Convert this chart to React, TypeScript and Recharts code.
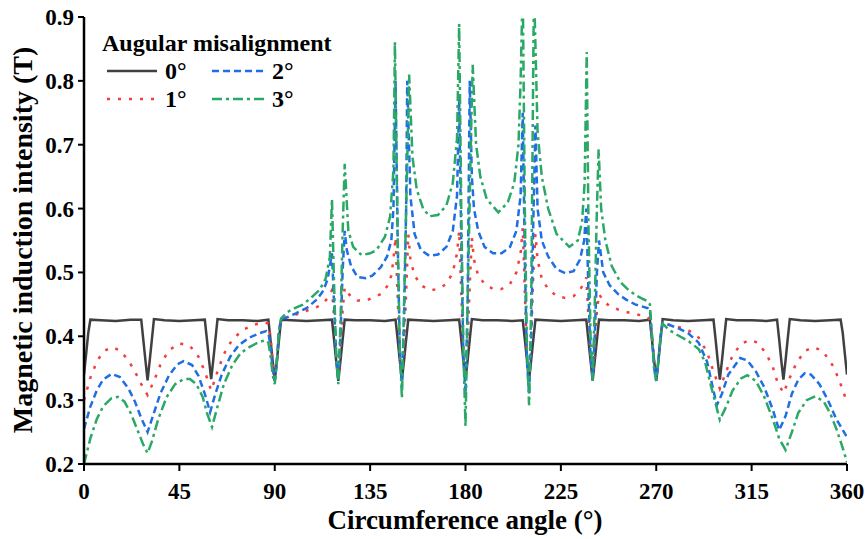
import React from 'react';
import { LineChart, Line, XAxis, YAxis, Legend, Label } from 'recharts';

// ---------- data ----------
const seriesNames = ['0°', '1°', '2°', '3°'];
const xTicks = [0, 45, 90, 135, 180, 225, 270, 315, 360];
const xMinorTicks = [22.5, 67.5, 112.5, 157.5, 202.5, 247.5, 292.5, 337.5];
const yTicks = [0.2, 0.3, 0.4, 0.5, 0.6, 0.7, 0.8, 0.9];
const yMinorTicks = [0.25, 0.35, 0.45, 0.55, 0.65, 0.75, 0.85];

const angles0 = [
  0, 1, 2, 3, 8, 15, 22,
  27, 28, 29, 30, 31, 32, 33, 38, 45, 52,
  57, 58, 59, 60, 61, 62, 63, 68, 75, 82,
  87, 88, 89, 90, 91, 92, 93, 98, 105, 112,
  117, 118, 119, 120, 121, 122, 123, 128, 135, 142,
  147, 148, 149, 150, 151, 152, 153, 158, 165, 172,
  177, 178, 179, 180, 181, 182, 183, 188, 195, 202,
  207, 208, 209, 210, 211, 212, 213, 218, 225, 232,
  237, 238, 239, 240, 241, 242, 243, 248, 255, 262,
  267, 268, 269, 270, 271, 272, 273, 278, 285, 292,
  297, 298, 299, 300, 301, 302, 303, 308, 315, 322,
  327, 328, 329, 330, 331, 332, 333, 338, 345, 352,
  357, 358, 359, 360,
];
const values0 = [
  0.340, 0.372, 0.405, 0.426, 0.425, 0.424, 0.426,
  0.426, 0.394, 0.362, 0.331, 0.362, 0.394, 0.427, 0.425, 0.424, 0.425,
  0.426, 0.395, 0.363, 0.333, 0.363, 0.395, 0.427, 0.425, 0.425, 0.424,
  0.426, 0.394, 0.362, 0.330, 0.362, 0.394, 0.426, 0.425, 0.424, 0.425,
  0.426, 0.394, 0.361, 0.330, 0.361, 0.394, 0.426, 0.425, 0.425, 0.424,
  0.426, 0.395, 0.362, 0.332, 0.362, 0.395, 0.426, 0.425, 0.424, 0.425,
  0.426, 0.395, 0.362, 0.332, 0.362, 0.395, 0.427, 0.425, 0.425, 0.424,
  0.425, 0.395, 0.363, 0.333, 0.363, 0.395, 0.426, 0.425, 0.424, 0.425,
  0.426, 0.394, 0.362, 0.331, 0.362, 0.394, 0.426, 0.425, 0.425, 0.424,
  0.426, 0.394, 0.362, 0.331, 0.362, 0.394, 0.427, 0.425, 0.424, 0.425,
  0.426, 0.395, 0.362, 0.332, 0.362, 0.395, 0.427, 0.425, 0.425, 0.424,
  0.426, 0.395, 0.362, 0.332, 0.362, 0.395, 0.427, 0.425, 0.424, 0.425,
  0.426, 0.405, 0.372, 0.340,
];

const angles1 = [
  0, 3, 6, 9, 13, 17, 21, 24, 27, 30,
  33, 36, 40, 45, 50, 54, 57, 60,
  63, 66, 70, 75, 80, 85, 87, 88, 89, 90, 91, 92, 93,
  96, 100, 105, 110, 113, 115, 116, 117, 118, 119, 120, 121, 122, 123,
  124, 126, 129, 133, 136, 140, 143, 145, 146, 147, 148, 149, 150, 151, 152, 153,
  154, 156, 159, 163, 167, 171, 174, 176, 177, 178, 179, 180, 181, 182, 183,
  184, 186, 189, 193, 197, 201, 204, 206, 207, 208, 209, 210, 211, 212, 213,
  214, 216, 219, 223, 227, 231, 234, 236, 237, 238, 239, 240, 241, 242, 243,
  245, 248, 252, 256, 260, 264, 266, 267, 268, 269, 270, 271, 272, 273,
  276, 280, 285, 290, 294, 297, 300,
  303, 306, 310, 314, 318, 322, 325, 327, 330,
  333, 336, 340, 344, 348, 351, 354, 357, 360,
];
const values1 = [
  0.300, 0.335, 0.360, 0.376, 0.383, 0.378, 0.362, 0.345, 0.325, 0.308,
  0.330, 0.355, 0.378, 0.389, 0.385, 0.368, 0.345, 0.315,
  0.345, 0.372, 0.395, 0.410, 0.418, 0.422, 0.420, 0.400, 0.360, 0.335, 0.360, 0.405, 0.428,
  0.430, 0.434, 0.440, 0.446, 0.452, 0.460, 0.465, 0.472, 0.430, 0.370, 0.335, 0.380, 0.440, 0.476,
  0.470, 0.462, 0.456, 0.456, 0.460, 0.466, 0.478, 0.495, 0.520, 0.555, 0.460, 0.370, 0.332, 0.380, 0.470, 0.560,
  0.520, 0.495, 0.480, 0.472, 0.474, 0.482, 0.500, 0.530, 0.565, 0.470, 0.370, 0.332, 0.390, 0.480, 0.555,
  0.520, 0.495, 0.482, 0.474, 0.474, 0.482, 0.500, 0.530, 0.570, 0.470, 0.370, 0.333, 0.400, 0.500, 0.560,
  0.520, 0.490, 0.474, 0.463, 0.460, 0.463, 0.472, 0.485, 0.492, 0.430, 0.370, 0.335, 0.380, 0.440, 0.466,
  0.456, 0.447, 0.442, 0.438, 0.435, 0.432, 0.430, 0.425, 0.400, 0.360, 0.335, 0.360, 0.400, 0.420,
  0.418, 0.415, 0.410, 0.398, 0.375, 0.345, 0.318,
  0.345, 0.370, 0.388, 0.394, 0.390, 0.372, 0.352, 0.330, 0.311,
  0.335, 0.357, 0.377, 0.383, 0.378, 0.366, 0.350, 0.325, 0.297,
];

const angles2 = [
  0, 3, 6, 9, 13, 17, 21, 24, 27, 30,
  33, 36, 40, 44, 47, 51, 54, 57, 59.5,
  62, 65, 69, 73, 78, 83, 86, 87, 88, 89, 90, 91, 92, 93,
  96, 100, 105, 110, 113, 115, 116, 117, 118, 119, 120, 121, 122, 123,
  124, 126, 129, 133, 136, 140, 143, 145, 146, 147, 148, 149, 150, 151, 152, 152.5,
  154, 156, 159, 163, 167, 171, 174, 176, 177, 178, 179, 180, 181, 182, 183,
  184, 186, 189, 193, 197, 201, 204, 206, 207, 208, 209, 210, 211, 212, 213,
  214, 216, 219, 223, 227, 231, 234, 236, 237, 238, 239, 240, 241, 242, 243,
  245, 248, 252, 256, 260, 264, 266, 267, 268, 269, 270, 271, 272, 273,
  276, 280, 285, 290, 294, 297, 298.6,
  301, 304, 309.6, 313, 317, 321, 325, 328,
  331, 334, 337, 340, 343, 347, 351, 355, 360,
];
const values2 = [
  0.255, 0.290, 0.315, 0.332, 0.341, 0.336, 0.318, 0.298, 0.272, 0.250,
  0.280, 0.310, 0.338, 0.356, 0.361, 0.355, 0.338, 0.310, 0.281,
  0.310, 0.340, 0.368, 0.386, 0.398, 0.405, 0.408, 0.405, 0.385, 0.350, 0.330, 0.360, 0.410, 0.427,
  0.430, 0.436, 0.444, 0.458, 0.472, 0.490, 0.510, 0.530, 0.450, 0.370, 0.330, 0.400, 0.500, 0.565,
  0.535, 0.510, 0.493, 0.491, 0.495, 0.508, 0.525, 0.550, 0.600, 0.800, 0.550, 0.380, 0.320, 0.420, 0.600, 0.800,
  0.620, 0.560, 0.535, 0.526, 0.528, 0.540, 0.565, 0.620, 0.770, 0.550, 0.370, 0.310, 0.450, 0.800, 0.650,
  0.600, 0.565, 0.540, 0.530, 0.530, 0.540, 0.565, 0.620, 0.750, 0.520, 0.360, 0.310, 0.400, 0.580, 0.730,
  0.600, 0.550, 0.525, 0.505, 0.499, 0.502, 0.520, 0.550, 0.600, 0.470, 0.370, 0.335, 0.400, 0.500, 0.550,
  0.500, 0.480, 0.466, 0.457, 0.450, 0.446, 0.444, 0.440, 0.400, 0.350, 0.330, 0.360, 0.400, 0.420,
  0.418, 0.413, 0.405, 0.390, 0.360, 0.315, 0.292,
  0.310, 0.340, 0.366, 0.362, 0.345, 0.320, 0.285, 0.253,
  0.275, 0.310, 0.332, 0.342, 0.340, 0.325, 0.300, 0.270, 0.242,
];

const angles3 = [
  0, 3, 6, 9, 13, 16, 19, 22, 25, 28, 30,
  32, 35, 39, 43, 47, 50, 53, 56, 58, 60.4,
  63, 66, 70, 74, 78, 82, 85.5, 87, 88, 89, 90, 91, 92, 93,
  96, 100, 103, 107, 111, 114, 116, 117, 118, 119, 120, 121, 122, 123,
  124.7, 127, 131, 135, 138, 142, 144.4, 146, 146.7, 148, 149, 150, 151, 152, 153.4,
  155, 157, 160, 163, 167, 171, 174, 176, 177, 178, 179, 180, 181, 182.5, 183.4,
  185, 187, 190, 195.5, 200, 203, 205, 206, 207, 208, 209, 210, 211, 212.3,
  214, 216, 219, 223, 229, 233, 235, 236.2, 237.2, 238, 239, 240, 241, 242, 242.8,
  244, 246, 249, 253, 257, 261, 264, 266, 267, 268, 269, 270, 271, 272, 273,
  276, 280, 285, 290, 293, 296, 300,
  303, 306, 310, 313, 317, 321, 325, 328, 331,
  334, 337, 341, 345, 349, 352, 355, 358, 360,
];
const values3 = [
  0.200, 0.240, 0.270, 0.290, 0.303, 0.305, 0.298, 0.280, 0.255, 0.230, 0.217,
  0.235, 0.270, 0.305, 0.325, 0.333, 0.333, 0.325, 0.305, 0.280, 0.258,
  0.290, 0.325, 0.355, 0.374, 0.383, 0.390, 0.394, 0.390, 0.370, 0.340, 0.325, 0.360, 0.410, 0.428,
  0.438, 0.445, 0.449, 0.460, 0.472, 0.490, 0.524, 0.615, 0.480, 0.370, 0.325, 0.420, 0.560, 0.670,
  0.566, 0.540, 0.527, 0.530, 0.535, 0.556, 0.587, 0.660, 0.861, 0.550, 0.380, 0.303, 0.450, 0.600, 0.810,
  0.680, 0.630, 0.600, 0.588, 0.590, 0.605, 0.640, 0.710, 0.889, 0.600, 0.380, 0.259, 0.450, 0.700, 0.825,
  0.700, 0.650, 0.615, 0.594, 0.610, 0.640, 0.700, 0.800, 0.950, 0.600, 0.380, 0.292, 0.450, 0.950,
  0.720, 0.650, 0.600, 0.560, 0.540, 0.550, 0.580, 0.640, 0.845, 0.580, 0.400, 0.330, 0.450, 0.600, 0.693,
  0.600, 0.550, 0.510, 0.485, 0.472, 0.463, 0.458, 0.455, 0.450, 0.400, 0.350, 0.330, 0.360, 0.400, 0.420,
  0.410, 0.402, 0.393, 0.380, 0.360, 0.320, 0.269,
  0.290, 0.315, 0.334, 0.339, 0.330, 0.305, 0.270, 0.240, 0.222,
  0.250, 0.280, 0.300, 0.306, 0.298, 0.280, 0.255, 0.225, 0.203,
];

// ---------- build ----------
const toPoints = (a: number[], v: number[]) => a.map((x, i) => ({ angle: x, value: v[i] }));

const FONT = 'Liberation Serif, Times New Roman, serif';

const series = [
  { name: seriesNames[0], data: toPoints(angles0, values0), color: '#404040', dash: undefined as string | undefined },
  { name: seriesNames[1], data: toPoints(angles1, values1), color: '#f53d3d', dash: '3 8' },
  { name: seriesNames[2], data: toPoints(angles2, values2), color: '#1f6ee3', dash: '7 4' },
  { name: seriesNames[3], data: toPoints(angles3, values3), color: '#2aa866', dash: '10 4 3 4' },
];

const textStyle: React.CSSProperties = { fontFamily: FONT, fontWeight: 700 };

function XTick(props: any) {
  const { x, y, payload } = props;
  return (
    <text x={x} y={y + 17} textAnchor="middle" fontSize={23} fill="#000" style={textStyle}>
      {payload.value}
    </text>
  );
}

function YTick(props: any) {
  const { x, y, payload } = props;
  return (
    <text x={x} y={y + 8} textAnchor="end" fontSize={23} fill="#000" style={textStyle}>
      {Number(payload.value).toFixed(1)}
    </text>
  );
}

function LegendBox() {
  const sw = (s: typeof series[number], x1: number, x2: number, y: number) => (
    <line x1={x1} x2={x2} y1={y} y2={y} stroke={s.color} strokeWidth={2.5} strokeDasharray={s.dash} />
  );
  const txt = (t: string, x: number, y: number) => (
    <text x={x} y={y} fontSize={24} fill="#000" style={textStyle}>{t}</text>
  );
  return (
    <svg width={260} height={95} style={{ display: 'block' }}>
      {txt('Augular misalignment', 7, 26)}
      {sw(series[0], 12, 62, 46)}
      {txt(series[0].name, 70, 54)}
      {sw(series[2], 117, 172, 46)}
      {txt(series[2].name, 177, 54)}
      {sw(series[1], 12, 62, 74)}
      {txt(series[1].name, 70, 82)}
      {sw(series[3], 117, 172, 74)}
      {txt(series[3].name, 177, 82)}
    </svg>
  );
}

export default function App() {
  return (
    <div style={{ position: 'absolute', left: 0, top: 0, background: '#fff' }}>
      <LineChart width={866} height={539} margin={{ top: 17, right: 19, left: 24, bottom: 0 }}>
        <XAxis xAxisId="xminor" type="number" dataKey="angle" domain={[0, 360]} ticks={xMinorTicks}
          tick={false} tickSize={4} axisLine={false} height={0} allowDataOverflow
          tickLine={{ stroke: '#000', strokeWidth: 2 }} />
        <XAxis xAxisId="x" type="number" dataKey="angle" domain={[0, 360]} ticks={xTicks} interval={0}
          height={75} allowDataOverflow tickSize={7} tickMargin={11}
          tick={<XTick />} axisLine={{ stroke: '#000', strokeWidth: 2.5 }}
          tickLine={{ stroke: '#000', strokeWidth: 2 }}>
          <Label content={() => (
            <text x={465} y={529} textAnchor="middle" fontSize={27} fill="#000" style={textStyle}>
              Circumference angle (°)
            </text>
          )} />
        </XAxis>
        <XAxis xAxisId="xtop" orientation="top" type="number" dataKey="angle" domain={[0, 360]}
          tick={false} tickLine={false} height={0} axisLine={{ stroke: '#000', strokeWidth: 2.5 }} />
        <YAxis yAxisId="yminor" type="number" domain={[0.2, 0.9]} ticks={yMinorTicks} tick={false}
          tickSize={4} axisLine={false} width={0} allowDataOverflow
          tickLine={{ stroke: '#000', strokeWidth: 2 }} />
        <YAxis yAxisId="y" type="number" domain={[0.2, 0.9]} ticks={yTicks} interval={0} width={60}
          allowDataOverflow tickSize={6} tickMargin={4} tick={<YTick />}
          axisLine={{ stroke: '#000', strokeWidth: 2.5 }} tickLine={{ stroke: '#000', strokeWidth: 2 }}>
          <Label content={() => (
            <text x={32} y={240} transform="rotate(-90 32 240)" textAnchor="middle"
              fontSize={28} fill="#000" style={textStyle}>
              Magnetic induction intensity (T)
            </text>
          )} />
        </YAxis>
        <YAxis yAxisId="yright" orientation="right" type="number" domain={[0.2, 0.9]} tick={false}
          tickLine={false} width={0} axisLine={{ stroke: '#000', strokeWidth: 2.5 }} />
        <Legend content={() => <LegendBox />} layout="horizontal" verticalAlign="middle" align="center"
          wrapperStyle={{ left: 95, top: 25, width: 260, height: 95 }} />
        {series.map((s) => (
          <Line key={s.name} xAxisId="x" yAxisId="y" data={s.data} dataKey="value" name={s.name}
            type="linear" stroke={s.color} strokeWidth={2.5} strokeDasharray={s.dash}
            dot={false} activeDot={false} isAnimationActive={false} />
        ))}
      </LineChart>
    </div>
  );
}
